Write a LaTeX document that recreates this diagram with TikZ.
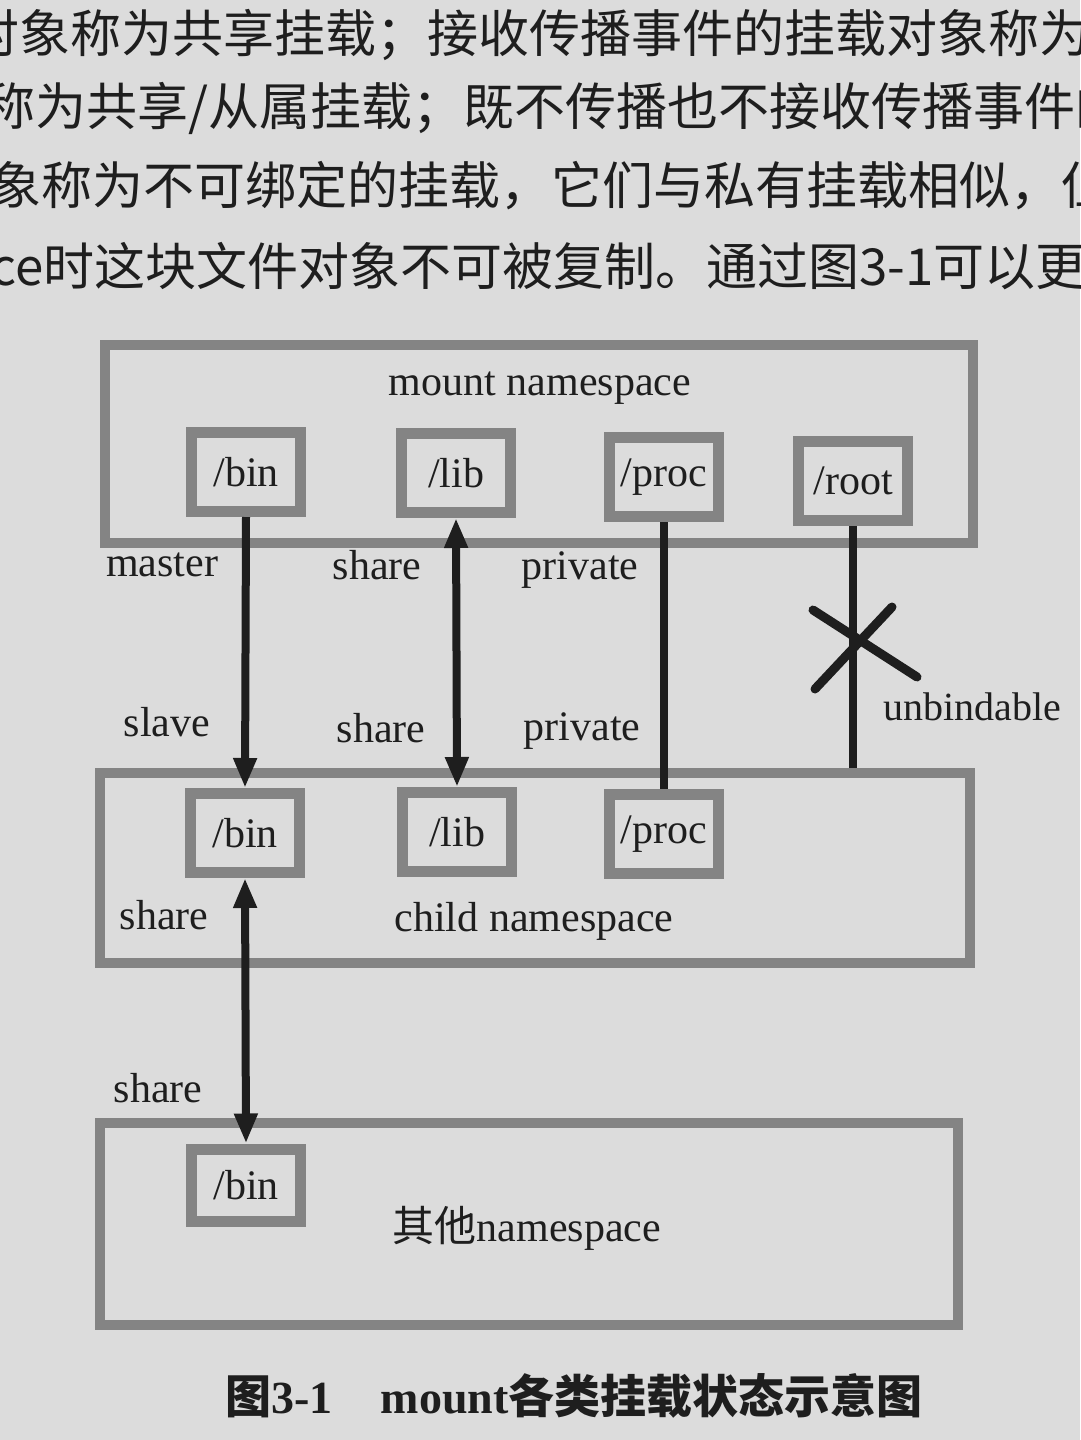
\documentclass[tikz,border=0pt]{standalone}
\usepackage{fontspec}
\setmainfont{Liberation Serif}
\newfontfamily\cjk{Noto Sans CJK SC}
\usetikzlibrary{arrows.meta}
\definecolor{paper}{HTML}{DCDCDC}
\definecolor{boxgray}{HTML}{848484}
\definecolor{ink}{HTML}{1E1E1E}
\begin{document}
\begin{tikzpicture}[x=1pt,y=-1pt,
  every node/.style={inner sep=0pt, text=ink, font=\fontsize{42}{48}\selectfont},
  bodyline/.style={anchor=west, font=\cjk\fontsize{51}{51}\selectfont},
  nsbox/.style={draw=boxgray, line width=10pt},
  mntbox/.style={draw=boxgray, line width=11pt, minimum width=109pt, minimum height=79pt},
  link/.style={draw=ink, line width=8pt},
  tipdown/.style={-{Triangle[length=30pt,width=22pt]}},
  tipboth/.style={{Triangle[length=30pt,width=22pt]}-{Triangle[length=30pt,width=22pt]}},
  xmark/.style={draw=ink, line width=9pt, line cap=round},
  caption/.style={font=\fontsize{46}{50}\selectfont\bfseries}
]
\useasboundingbox (0,0) rectangle (1080,1440);
\fill[paper] (0,0) rectangle (1080,1440);
\clip (0,0) rectangle (1080,1440);

% body text above the figure (cut off at the page edges, as in the photo)
\node[bodyline] (t1) at (-32,35) {对象称为共享挂载；接收传播事件的挂载对象称为};
\node[bodyline] (t2) at (-16,108) {称为共享/从属挂载；既不传播也不接收传播事件的};
\node[bodyline] (t3) at (-10,186) {象称为不可绑定的挂载，它们与私有挂载相似，但};
\node[bodyline] (t4) at (-10,266) {ce时这块文件对象不可被复制。通过图3-1可以更好};

% namespaces
\node[nsbox, minimum width=868pt, minimum height=198pt] (mount) at (539,444) {};
\node[nsbox, minimum width=870pt, minimum height=190pt] (child) at (535,868) {};
\node[nsbox, minimum width=858pt, minimum height=202pt] (other) at (529,1224) {};

\node (mountlbl) at (540,388) {mount namespace};
\node (childlbl) at (534,921) {child namespace};
\node (otherlbl) at (527,1228) {{\cjk 其他}namespace};

% mount points
\node[mntbox] (mbin)  at (246,472) {/bin};
\node[mntbox] (mlib)  at (456,473) {/lib};
\node[mntbox] (mproc) at (664,477) {/proc};
\node[mntbox] (mroot) at (853,481) {/root};

\node[mntbox] (cbin)  at (245,833) {/bin};
\node[mntbox] (clib)  at (457,832) {/lib};
\node[mntbox] (cproc) at (664,834) {/proc};

\node[mntbox, minimum height=72pt] (obin) at (246,1185) {/bin};

% labels
\node (lmaster)  at (162,565) {master};
\node (lshare1)  at (377,565) {share};
\node (lpriv1)   at (580,570) {private};
\node (lslave)   at (167,722) {slave};
\node (lshare2)  at (381,728) {share};
\node (lpriv2)   at (582,731) {private};
\node[font=\fontsize{40}{46}\selectfont] (lunbind) at (972,707) {unbindable};
\node (lshare3)  at (164,915) {share};
\node (lshare4)  at (158,1088) {share};

% connectors
\draw[link, tipdown] (mbin.south) -- (cbin.north);
\draw[link, tipboth] (mlib.south) -- (clib.north);
\draw[link] (mproc.south) -- (cproc.north);
\coordinate (rootend) at (mroot.south |- child.north);
\draw[link] (mroot.south) -- (rootend);
\draw[link, tipboth] (cbin.south) -- (obin.north);

% cross on the unbindable link
\coordinate (xc) at (855,643);
\draw[xmark] (xc) +(-42,-33) -- +(62,34);
\draw[xmark] (xc) +(37,-36) -- +(-40,46);

% caption
\node[caption] (cap) at (574,1396) {{\cjk\bfseries 图}3-1\hspace{48pt}mount{\cjk\bfseries 各类挂载状态示意图}};
\end{tikzpicture}
\end{document}
